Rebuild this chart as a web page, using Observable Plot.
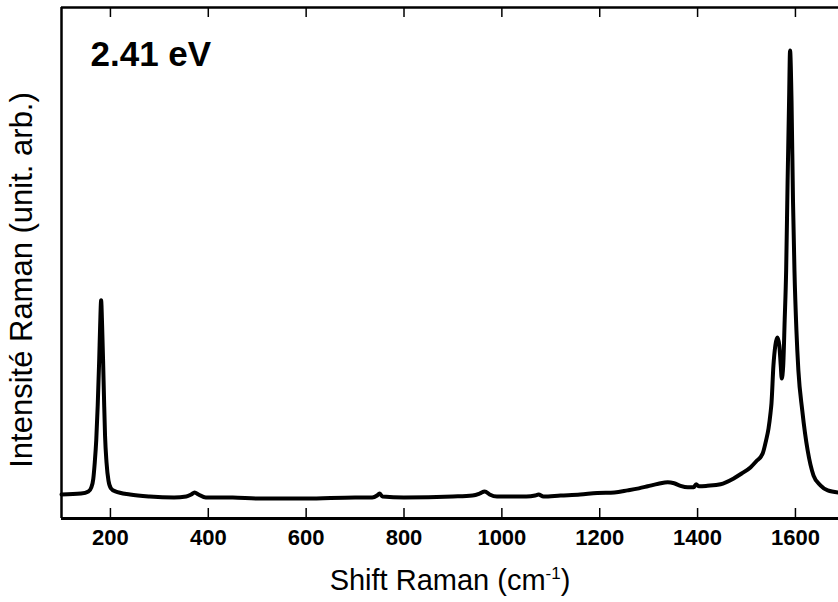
<!DOCTYPE html>
<html>
<head>
<meta charset="utf-8">
<script src="https://cdn.jsdelivr.net/npm/d3@7"></script>
<script src="https://cdn.jsdelivr.net/npm/@observablehq/plot@0.6"></script>
<style>
  body { margin: 0; background: #fff; }
  #chart svg { display: block; }
</style>
</head>
<body>
<div id="chart"></div>
<script>
// Raman spectrum, excitation 2.41 eV: shift (cm-1) and intensity (arb. units)
const shift = [
  100, 140, 155, 161, 165, 168, 171, 174, 177, 179,
  181, 183, 185, 187, 189, 192, 196, 201, 210, 240,
  280, 330, 355, 365, 372, 380, 395, 450, 500, 600,
  700, 735, 745, 750, 756, 800, 900, 940, 955, 965,
  975, 990, 1050, 1068, 1075, 1085, 1120, 1160, 1195, 1230,
  1257, 1280, 1298, 1320, 1339, 1352, 1365, 1380, 1392, 1397,
  1403, 1420, 1447, 1473, 1490, 1508, 1520, 1533, 1540, 1545,
  1549, 1551, 1555, 1559, 1563, 1567, 1570, 1572, 1575, 1578,
  1581, 1584, 1587, 1589, 1592, 1595, 1598, 1602, 1606, 1614,
  1625, 1637, 1651, 1666, 1688
];
const intensity = [
  4.7, 4.9, 5.3, 6.1, 7.8, 11.0, 15.3, 22.1, 30.9, 37.8,
  42.7, 37.8, 30.9, 23.1, 16.2, 11.0, 7.4, 5.9, 5.3, 4.7,
  4.3, 4.1, 4.3, 4.7, 5.1, 4.7, 4.1, 4.1, 3.9, 3.9,
  4.1, 4.1, 4.5, 4.9, 4.3, 4.1, 4.3, 4.5, 4.9, 5.3,
  4.7, 4.3, 4.3, 4.5, 4.7, 4.3, 4.5, 4.7, 5.0, 5.1,
  5.5, 5.9, 6.3, 6.8, 7.1, 6.9, 6.4, 6.1, 6.1, 6.7,
  6.3, 6.4, 6.7, 7.8, 8.8, 10.0, 11.2, 12.7, 15.3, 17.6,
  20.6, 22.5, 29.9, 33.9, 35.4, 33.9, 29.9, 27.4, 29.9, 38.8,
  48.5, 66.1, 81.8, 91.6, 81.8, 62.2, 48.5, 36.8, 29.0, 21.1,
  13.3, 8.4, 6.5, 5.5, 5.1
];

const xTicks = [200, 400, 600, 800, 1000, 1200, 1400, 1600];
const xDomain = [100, 1688];
const yDomain = [0, 100];

const excitation = "2.41 eV";
const yLabel = "Intensité Raman (unit. arb.)";
const xLabelParts = ["Shift Raman (cm", "-1", ")"];
const xLabel = xLabelParts.join("");

const spectrum = shift.map((s, i) => ({shift: s, intensity: intensity[i]}));

const font = "'Liberation Sans', Arial, Helvetica, sans-serif";

const width = 838, height = 602;
const margin = {top: 7, right: 0, bottom: 84, left: 61};
const innerHeight = height - margin.top - margin.bottom;
const tickLength = 10;

const chart = Plot.plot({
  width,
  height,
  marginLeft: margin.left,
  marginRight: margin.right,
  marginTop: margin.top,
  marginBottom: margin.bottom,
  style: {fontFamily: font, background: "#fff", color: "#000"},
  x: {domain: xDomain},
  y: {domain: yDomain, axis: null},
  marks: [
    // tick labels
    Plot.axisX(xTicks, {anchor: "bottom", tickSize: 0, tickPadding: 11, fontSize: 22, fontWeight: "bold",
                        tickFormat: d3.format("d"), label: null}),
    // inward ticks on the bottom and top edges
    Plot.ruleX(xTicks, {stroke: "#000", strokeWidth: 1.5, insetTop: innerHeight - tickLength}),
    Plot.ruleX(xTicks, {stroke: "#000", strokeWidth: 1.5, insetBottom: innerHeight - tickLength}),
    // frame: left, bottom and top edges
    Plot.ruleX([xDomain[0]], {strokeWidth: 2.5}),
    Plot.ruleY([yDomain[0]], {strokeWidth: 3}),
    Plot.ruleY([yDomain[1]], {strokeWidth: 2.5}),
    // spectrum
    Plot.line(spectrum, {x: "shift", y: "intensity", stroke: "#000", strokeWidth: 4, curve: "monotone-x"}),
    // excitation energy
    Plot.text([excitation], {frameAnchor: "top-left", dx: 29, dy: 34, fontSize: 35, fontWeight: "bold", fill: "#000"}),
    // axis titles
    Plot.text([yLabel], {frameAnchor: "left", textAnchor: "middle", rotate: -90, dx: -39, dy: 17,
                         fontSize: 31, fill: "#000"}),
    Plot.text([xLabel], {frameAnchor: "bottom", lineAnchor: "middle", dy: 62, fontSize: 29, fill: "#000"})
  ]
});

// superscript exponent in the x-axis title
d3.select(chart).selectAll("text").filter(function () { return this.textContent === xLabel; })
  .each(function () {
    const t = d3.select(this);
    t.text(null);
    t.append("tspan").text(xLabelParts[0]);
    t.append("tspan").attr("dy", -11).attr("font-size", 17).text(xLabelParts[1]);
    t.append("tspan").attr("dy", 11).text(xLabelParts[2]);
  });

document.getElementById("chart").appendChild(chart);
</script>
</body>
</html>
